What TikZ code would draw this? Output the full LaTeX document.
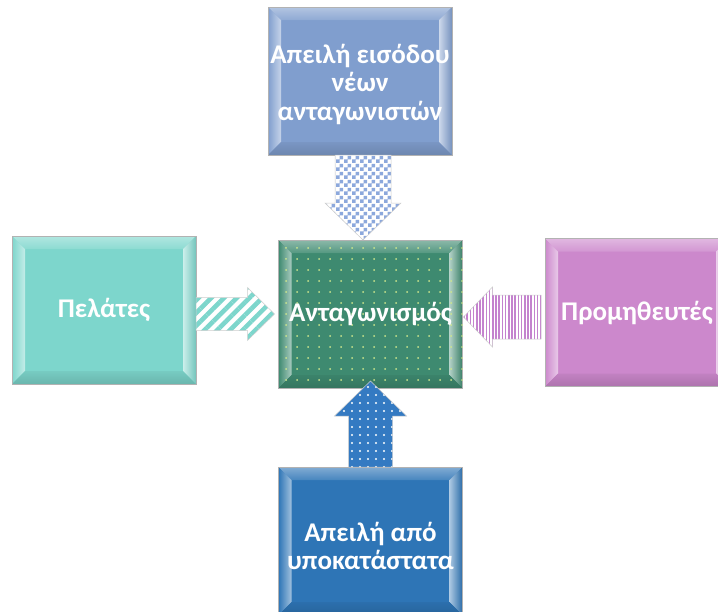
\documentclass[tikz,border=0pt]{standalone}
\usepackage{fontspec}
\setmainfont{Carlito}
\usetikzlibrary{calc,patterns,patterns.meta}

% two-colour checks, 4pt squares
\pgfdeclarepatternformonly{checks}{\pgfpointorigin}{\pgfpoint{8pt}{8pt}}{\pgfpoint{8pt}{8pt}}{%
  \pgfpathrectangle{\pgfpointorigin}{\pgfpoint{4pt}{4pt}}%
  \pgfpathrectangle{\pgfpoint{4pt}{4pt}}{\pgfpoint{4pt}{4pt}}%
  \pgfusepath{fill}}

\definecolor{cTop}{RGB}{128,158,206}
\definecolor{cLeft}{RGB}{125,214,204}
\definecolor{cMid}{RGB}{62,138,112}
\definecolor{cRight}{RGB}{204,136,204}
\definecolor{cBot}{RGB}{46,117,182}
\definecolor{cTopArrow}{RGB}{140,168,220}
\definecolor{cRightArrow}{RGB}{196,130,206}
\definecolor{cBotArrow}{RGB}{52,122,194}
\definecolor{cDot}{RGB}{205,230,140}

% bevelled frame: four trapezoids inside a box node
\newcommand\bevelbox[2]{%
  \path[top color=#2!60!white, bottom color=#2!88!white]
    (#1.north west) -- (#1.north east) -- ([xshift=-13pt,yshift=-13pt]#1.north east)
    -- ([xshift=13pt,yshift=-13pt]#1.north west) -- cycle;
  \path[left color=#2, right color=#2!45!white]
    (#1.north west) -- ([xshift=13pt,yshift=-13pt]#1.north west)
    -- ([xshift=13pt,yshift=13pt]#1.south west) -- (#1.south west) -- cycle;
  \path[left color=#2!40!white, right color=#2!92!black]
    (#1.north east) -- ([xshift=-13pt,yshift=-13pt]#1.north east)
    -- ([xshift=-13pt,yshift=13pt]#1.south east) -- (#1.south east) -- cycle;
  \path[top color=#2!95!black, bottom color=#2!85!black]
    (#1.south west) -- ([xshift=13pt,yshift=13pt]#1.south west)
    -- ([xshift=-13pt,yshift=13pt]#1.south east) -- (#1.south east) -- cycle;
  \draw[black!30, line width=0.6pt] (#1.north west) rectangle (#1.south east);
}

% block arrow from #1 to #2: shaft half width #3, head half width #4, head length #5
\newcommand\fatarrow[6]{%
  \coordinate (#1#2h) at ($(#2)!#5!(#1)$);
  \path[#6] ($(#1)!#3!90:(#2)$) -- ($(#1#2h)!#3!-90:(#1)$) -- ($(#1#2h)!#4!-90:(#1)$)
    -- (#2) -- ($(#1#2h)!#4!90:(#1)$) -- ($(#1#2h)!#3!90:(#1)$)
    -- ($(#1)!#3!-90:(#2)$) -- cycle;
}

\begin{document}
\begin{tikzpicture}[x=1pt,y=-1pt,
  box/.style={minimum width=184pt, minimum height=148pt, inner sep=0pt, outer sep=0pt},
  boxtext/.style={text=white, font=\bfseries\fontsize{27}{28.5}\selectfont, align=center, inner sep=0pt},
  arrowline/.style={draw=black!20, line width=0.5pt},
  checkarrow/.style={arrowline, preaction={fill=white}, pattern=checks, pattern color=cTopArrow},
  stripearrow/.style={arrowline, preaction={fill=white}, pattern={Lines[angle=45,distance=9pt,line width=4.5pt]}, pattern color=cLeft},
  vstripearrow/.style={arrowline, preaction={fill=white}, pattern={Lines[angle=90,distance=3.2pt,line width=1.7pt]}, pattern color=cRightArrow},
  dotarrow/.style={arrowline, preaction={fill=cBotArrow}, pattern={Dots[distance=8pt,radius=1.1pt]}, pattern color=white},
]
\useasboundingbox (0,0) rectangle (718,611);
\clip (0,0) rectangle (718,611);

% boxes
\node[box, fill=cTop]   (T) at (360,81)    {};
\node[box, fill=cLeft]  (L) at (104,310)   {};
\node[box, fill=cMid]   (C) at (370.5,314) {};
\node[box, fill=cRight] (R) at (637,312.5) {};
\node[box, fill=cBot]   (B) at (370.5,541) {};

\bevelbox{T}{cTop}
\bevelbox{L}{cLeft}
\bevelbox{C}{cMid}
\bevelbox{R}{cRight}
\bevelbox{B}{cBot}

% dotted texture of the central box
\path[pattern={Dots[distance=11pt,radius=1pt]}, pattern color=cDot]
  (C.north west) rectangle (C.south east);

% arrow end points
\coordinate (ta) at ([xshift=3pt]T.south);
\coordinate (tb) at (ta |- C.north);
\coordinate (la) at (L.east |- C.west);
\coordinate (lb) at ([xshift=-4pt]C.west);
\coordinate (ra) at ([xshift=-4pt,yshift=-3pt]R.west |- C.east);
\coordinate (rb) at ([xshift=1pt,yshift=-3pt]C.east);
\coordinate (ba) at (B.north);
\coordinate (bb) at ([yshift=7pt]C.south);

% arrows
\fatarrow{ta}{tb}{28pt}{38pt}{37pt}{checkarrow}
\fatarrow{la}{lb}{16.5pt}{26.5pt}{27pt}{stripearrow}
\fatarrow{ra}{rb}{22pt}{30pt}{29pt}{vstripearrow}
\fatarrow{ba}{bb}{22pt}{36pt}{35pt}{dotarrow}

% labels
\node[boxtext] (Tt) at ([yshift=-3pt]T.center) {Απειλή εισόδου\\νέων\\ανταγωνιστών};
\node[boxtext] (Lt) at (L) {Πελάτες};
\node[boxtext] (Ct) at (C) {Ανταγωνισμός};
\node[boxtext] (Rt) at (R) {Προμηθευτές};
\node[boxtext] (Bt) at ([yshift=-5pt]B.center) {Απειλή από\\υποκατάστατα};
\end{tikzpicture}
\end{document}
